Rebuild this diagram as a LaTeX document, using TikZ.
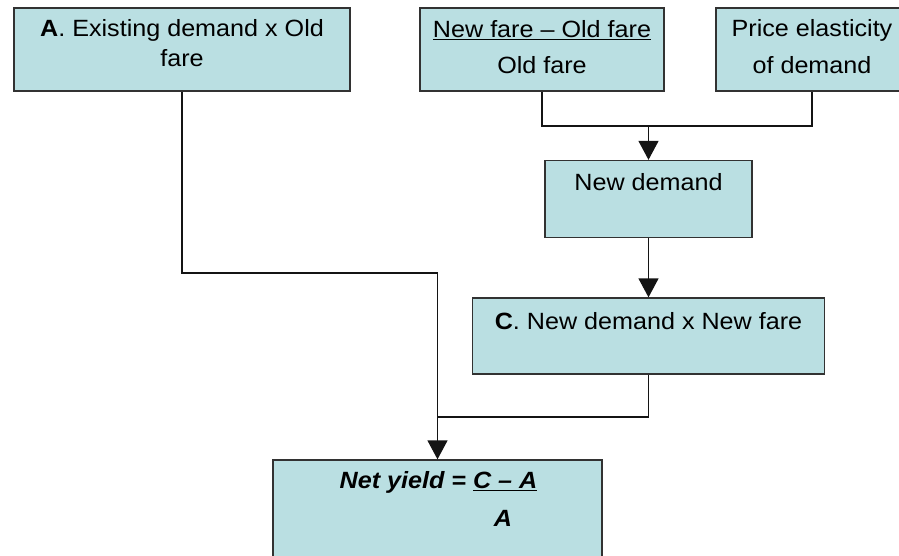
\documentclass[tikz,border=0pt]{standalone}
\usepackage{fontspec}
\setmainfont[FakeStretch=1.07]{Liberation Sans}
\usetikzlibrary{arrows.meta}
\definecolor{boxfill}{RGB}{186,223,226}
\definecolor{edge}{RGB}{50,50,50}
\definecolor{wirecol}{RGB}{20,20,20}
\tikzset{
  box/.style={draw=edge, fill=boxfill, line width=1.3pt, inner sep=0pt},
  txt/.style={align=center, inner sep=0pt, font={\fontsize{23.5}{30}\selectfont}},
  wire/.style={draw=wirecol, line width=1.3pt},
  arr/.style={wire, -{Triangle[width=20pt,length=19pt]}}
}
\begin{document}
\begin{tikzpicture}[x=1pt,y=-1pt]
\useasboundingbox (0,0) rectangle (899,556);
% boxes
\node[box, minimum width=336pt, minimum height=83pt] (boxA) at (182,49.5) {};
\node[box, minimum width=244pt, minimum height=83pt] (frac) at (542,49.5) {};
\node[box, minimum width=192pt, minimum height=83pt] (price) at (812,49.5) {};
\node[box, minimum width=207pt, minimum height=77pt] (nd) at (648.5,199) {};
\node[box, minimum width=352pt, minimum height=76pt] (boxC) at (648.5,336) {};
\node[box, minimum width=329pt, minimum height=140pt] (ny) at (437.5,530) {};
% texts
\node[txt] (tA) at (182,43) {\textbf{A}. Existing demand x Old\\fare};
\node[txt] (tF1) at (542,30) {\underline{New fare – Old fare}};
\node[txt] (tF2) at (542,65) {Old fare};
\node[txt] (tP1) at (812,30) {Price elasticity};
\node[txt] (tP2) at (812,65) {of demand};
\node[txt] (tN) at (648.5,182) {New demand};
\node[txt] (tC) at (648.5,321) {\textbf{C}. New demand x New fare};
\node[txt, font={\fontsize{23.5}{30}\selectfont\bfseries\itshape}] (tY1) at (438.5,482) {Net yield = \underline{C – A}};
\node[txt, font={\fontsize{23.5}{30}\selectfont\bfseries\itshape}] (tY2) at (503,518) {A};
% connectors
\coordinate (jA) at (437.5,273);
\coordinate (jC) at (437.5,417);
\coordinate (jF) at (648.5,126);
\draw[wire] (frac.south) |- (jF) -| (price.south);
\draw[arr] (jF) -- (nd.north);
\draw[arr] (nd.south) -- (boxC.north);
\draw[wire] (boxC.south) |- (jC);
\draw[arr] (boxA.south) |- (jA) -- (ny.north);
\end{tikzpicture}
\end{document}
